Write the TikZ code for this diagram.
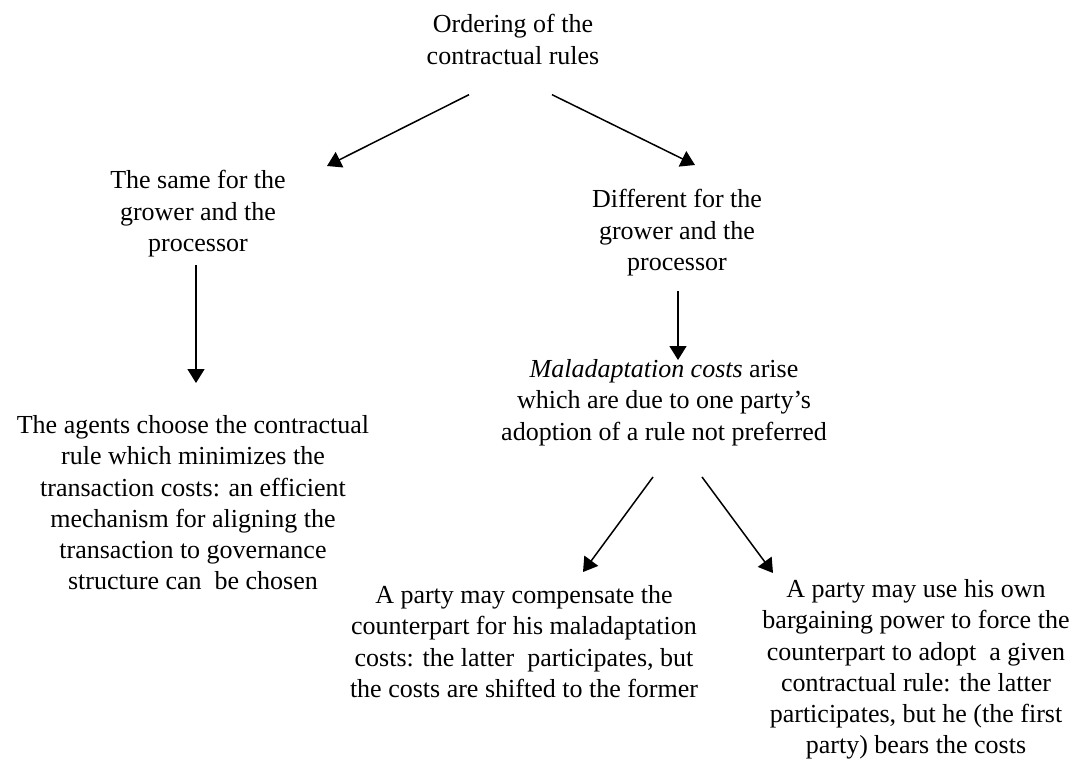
\documentclass[tikz,border=0pt]{standalone}
\usepackage{fontspec}
\setmainfont{Liberation Serif}
\usetikzlibrary{arrows.meta}
\begin{document}
\begin{tikzpicture}[x=0.5pt,y=-0.5pt,
	txt/.style={align=center,inner sep=0pt,anchor=north,font=\fontsize{13}{15.65}\selectfont},
	arr/.style={-{Triangle[length=7pt,width=8.5pt]},line width=0.75pt}]
	\useasboundingbox (0,0) rectangle (1087,761);
	% boxes of text
	\node[txt] (order) at (513,14) {Ordering of the\\contractual rules};
	\node[txt] (same) at (198,170) {The same for the\\grower and the\\processor};
	\node[txt] (diff) at (677,189) {Different for the\\grower and the\\processor};
	\node[txt] (choose) at (193,415) {The agents choose the contractual\\rule which minimizes the\\transaction costs: an efficient\\mechanism for aligning the\\transaction to governance\\structure can\ \ be chosen};
	\node[txt] (malad) at (664,359) {\textit{Maladaptation costs} arise\\which are due to one party's\\adoption of a rule not preferred};
	\node[txt] (compens) at (524,585) {A party may compensate the\\counterpart for his maladaptation\\costs: the latter\ \ participates, but\\the costs are shifted to the former};
	\node[txt] (force) at (916,579) {A party may use his own\\bargaining power to force the\\counterpart to adopt\ \ a given\\contractual rule: the latter\\participates, but he (the first\\party) bears the costs};
	% arrows
	\draw[arr] ([shift={(-44,30)}]order.south) -- ([shift={(129,-4)}]same.north);
	\draw[arr] ([shift={(39,30)}]order.south) -- ([shift={(18,-24)}]diff.north);
	\draw[arr] ([shift={(-2,8)}]same.south) -- ([shift={(3,-32)}]choose.north);
	\draw[arr] ([shift={(1,15)}]diff.south) -- ([shift={(14,1)}]malad.north);
	\draw[arr] ([shift={(-11,31)}]malad.south) -- ([shift={(59,-13)}]compens.north);
	\draw[arr] ([shift={(38,31)}]malad.south) -- ([shift={(-143,-6)}]force.north);
\end{tikzpicture}
\end{document}
